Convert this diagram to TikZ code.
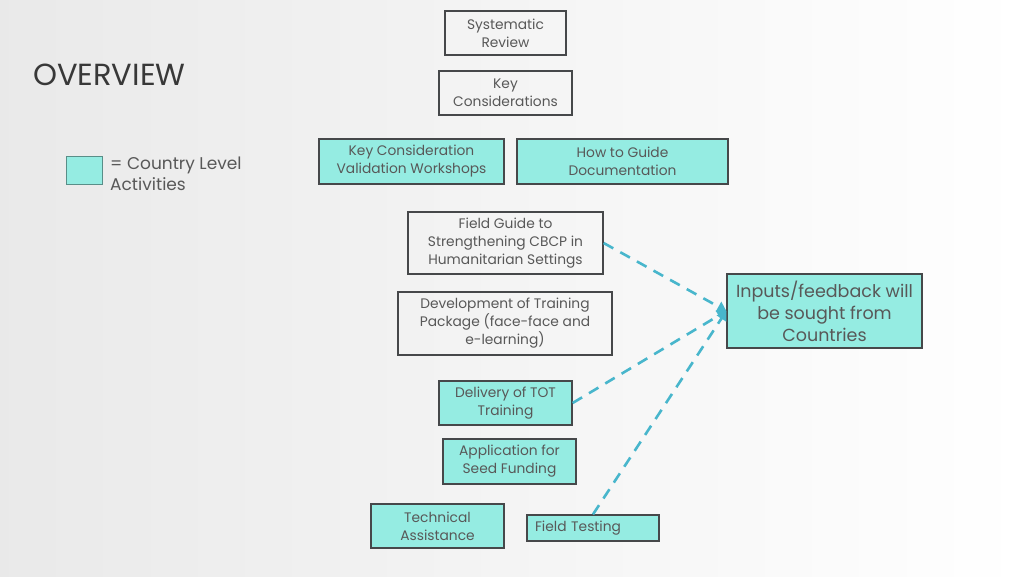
\documentclass[tikz,border=0pt]{standalone}
\usepackage{fontspec}
\setmainfont{Poppins}
\usetikzlibrary{arrows.meta}

\definecolor{kraj}{RGB}{149,236,226}
\definecolor{ramka}{RGB}{70,72,74}
\definecolor{napis}{RGB}{88,88,88}
\definecolor{strzalka}{RGB}{72,182,204}

\tikzset{
	box/.style={draw=ramka, line width=1.3pt, text=napis, align=center,
		font=\fontsize{13.8}{18}\selectfont, inner sep=1pt},
	country/.style={box, fill=kraj},
	feed/.style={strzalka, line width=2.6pt, dash pattern=on 11pt off 8pt,
		-{Triangle[length=9pt,width=11pt]}}
}

\begin{document}
\begin{tikzpicture}[x=1pt,y=-1pt]
	%tlo
	\shade[left color=gray!17, right color=white] (0,0) rectangle (1024,576);
	\useasboundingbox (0,0) rectangle (1024,576);

	%tytul
	\node[anchor=base west, inner sep=0pt, text=black!78,
		font=\fontsize{30.5}{30}\selectfont] (title) at (33,85) {OVERVIEW};

	%legenda
	\node[draw=kraj!60!black, fill=kraj, line width=1pt, minimum width=36pt,
		minimum height=28pt, inner sep=0pt] (leg) at (84,170) {};
	\node[anchor=north west, align=left, text=napis, inner sep=0pt,
		font=\fontsize{17}{21}\selectfont] (legtxt) at (110,157)
		{= Country Level\\Activities};

	%ramki
	\node[box, minimum width=121pt, minimum height=44pt] (rev) at (505.5,33)
		{Systematic\\Review};
	\node[box, minimum width=133pt, minimum height=44pt] (key) at (505.5,93)
		{Key\\Considerations};
	\node[country, minimum width=185pt, minimum height=45pt] (val) at (411.5,161.5)
		{Key Consideration\\Validation Workshops};
	\node[country, minimum width=211pt, minimum height=45pt] (how) at (622.5,161.5)
		{How to Guide\\Documentation};
	\node[box, minimum width=195pt, minimum height=62pt] (fg) at (505.5,243)
		{Field Guide to\\Strengthening CBCP in\\Humanitarian Settings};
	\node[box, minimum width=214pt, minimum height=63pt] (dev) at (505,323.5)
		{Development of Training\\Package (face-face and\\e-learning)};
	\node[country, minimum width=133pt, minimum height=44pt] (tot) at (505.5,403)
		{Delivery of TOT\\Training};
	\node[country, minimum width=133pt, minimum height=45pt] (seed) at (509.5,461.5)
		{Application for\\Seed Funding};
	\node[country, minimum width=133pt, minimum height=44pt] (ta) at (437.5,526)
		{Technical\\Assistance};
	\node[country, minimum width=132pt, minimum height=26pt, align=left,
		text width=116pt] (ft) at (593,528) {Field Testing};
	\node[country, minimum width=195pt, minimum height=74pt,
		font=\fontsize{17.5}{22}\selectfont] (inp) at (824.5,311)
		{Inputs/feedback will\\be sought from\\Countries};

	%strzalki
	\draw[feed] (fg.east) -- (inp.west);
	\draw[feed] (tot.east) -- (inp.west);
	\draw[feed] (ft.north) -- (inp.west);
\end{tikzpicture}
\end{document}
